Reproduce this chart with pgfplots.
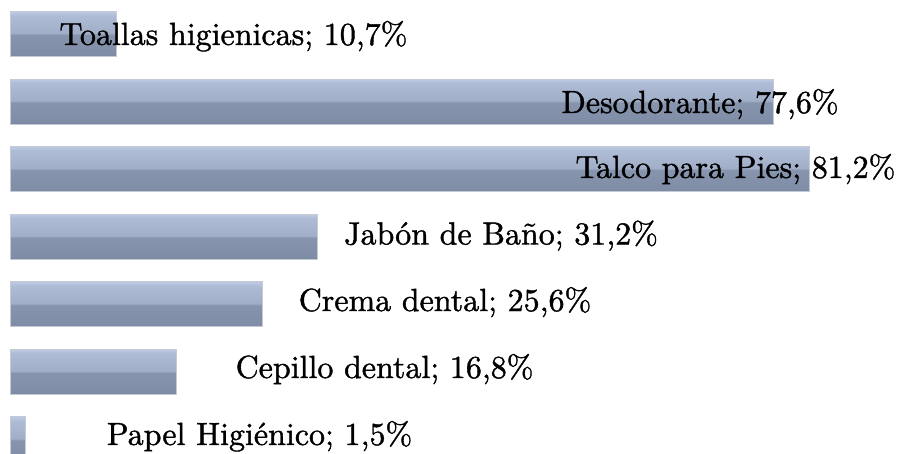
\documentclass[border=0pt]{standalone}
\usepackage{fontspec}
\setmainfont{lmroman10-regular.otf}[BoldFont=lmroman10-bold.otf,ItalicFont=lmroman10-italic.otf]
\newfontfamily\labfont{lmroman10-regular.otf}[FakeBold=1.2]
\usepackage{pgfplots}
\pgfplotsset{compat=1.18}
\definecolor{bB0}{RGB}{122,135,160}
\definecolor{bB1}{RGB}{128,141,166}
\definecolor{bB2}{RGB}{134,148,173}
\definecolor{bU1}{RGB}{160,174,200}
\definecolor{bU2}{RGB}{174,188,214}
\definecolor{bT}{RGB}{188,200,224}
\definecolor{bedge}{RGB}{196,202,214}
\pgfdeclareverticalshading{bevel}{100bp}{%
  color(0bp)=(bB0); color(25bp)=(bB0); color(28bp)=(bB1);
  color(49bp)=(bB2); color(51bp)=(bU1); color(71bp)=(bU2);
  color(74bp)=(bT); color(75bp)=(bT); color(100bp)=(bT)}
\begin{document}
\begin{tikzpicture}
\begin{axis}[
  width=450pt, height=227pt, scale only axis,
  xmin=-1.119, xmax=90.44, ymin=-0.2146, ymax=6.503,
  hide axis,
  clip=true,
  bv/.style={xbar, bar width=0.666, bar shift=0pt,
    draw=bedge, line width=0.5pt, shading=bevel, mark=none},
]
\addplot[bv] coordinates {(1.5,0)};
\addplot[bv] coordinates {(16.8,1)};
\addplot[bv] coordinates {(25.6,2)};
\addplot[bv] coordinates {(31.2,3)};
\addplot[bv] coordinates {(81.2,4)};
\addplot[bv] coordinates {(77.6,5)};
\addplot[bv] coordinates {(10.7,6)};
\tikzset{lab/.style={anchor=base, inner sep=0pt, text=black, font=\labfont\fontsize{16}{19}\selectfont}}
\node[lab] at (axis cs:22.63,5.838) {Toallas higienicas; 10,7\%};
\node[lab] at (axis cs:70.09,4.831) {Desodorante; 77,6\%};
\node[lab] at (axis cs:73.70,3.870) {Talco para Pies; 81,2\%};
\node[lab] at (axis cs:49.85,2.885) {Jabón de Baño; 31,2\%};
\node[lab] at (axis cs:44.15,1.901) {Crema dental; 25,6\%};
\node[lab] at (axis cs:38.00,0.910) {Cepillo dental; 16,8\%};
\node[lab] at (axis cs:25.28,-0.081) {Papel Higiénico; 1,5\%};
\end{axis}
\pgfresetboundingbox
\path (current axis.south west) rectangle (current axis.north east);
\end{tikzpicture}
\end{document}
